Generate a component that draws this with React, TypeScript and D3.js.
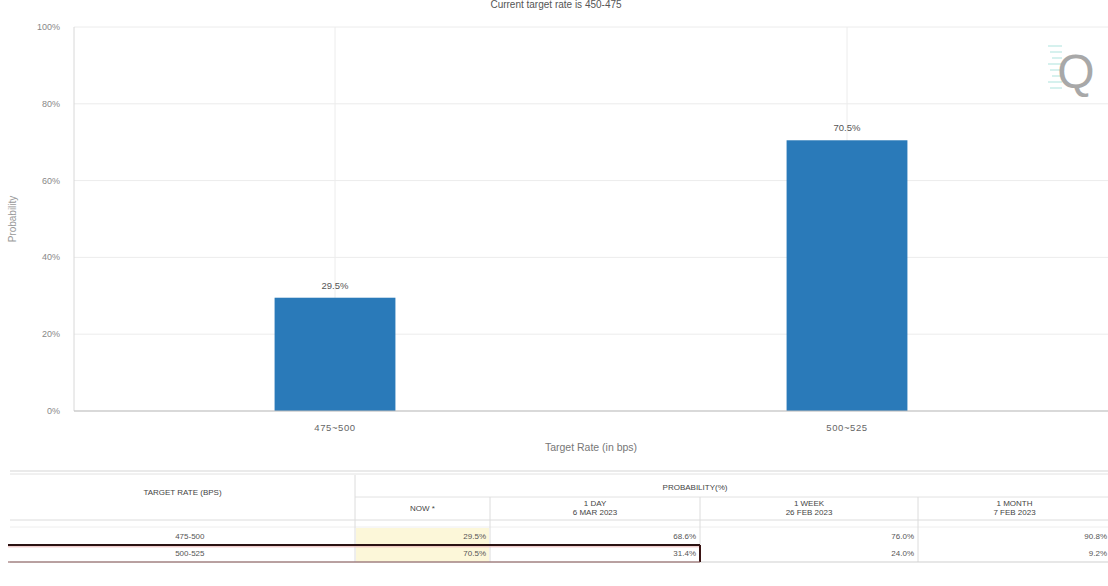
import * as d3 from "d3";

const categories = ["475-500", "500-525"];
const probabilities = [29.5, 70.5];
const yTicks = [0, 20, 40, 60, 80, 100];

const tableRates = ["475-500", "500-525"];
const nowValues = [29.5, 70.5];
const dayValues = [68.6, 31.4];
const weekValues = [76.0, 24.0];
const monthValues = [90.8, 9.2];
const periodLabels = ["NOW *", "1 DAY", "1 WEEK", "1 MONTH"];
const periodDates = ["", "6 MAR 2023", "26 FEB 2023", "7 FEB 2023"];

const W = 1108, H = 586;
const plot = { l: 74, r: 1108, t: 27, b: 411 };
const BAR = "#2a7ab9";
const FONT = "'Liberation Sans', Arial, sans-serif";

// table column edges (x) and row edges (y)
const colX = [10, 355, 490, 700, 918, 1111];
const rowY = { top: 475, sub: 497, head: 520, r1: 528, r2: 545, end: 562 };

export default function App() {
  const y = d3.scaleLinear().domain([0, 100]).range([plot.b, plot.t]);
  const x = d3.scaleBand<string>()
    .domain(categories)
    .range([79, 1103])
    .paddingInner(0.764)
    .paddingOuter(0.382);
  const bw = x.bandwidth();

  const valueCols = [nowValues, dayValues, weekValues, monthValues];
  const rowMid = [536, 553];

  return (
    <svg width={W} height={H} style={{ position: "absolute", left: 0, top: 0, background: "#fff" }} fontFamily={FONT}>
      {/* title, clipped at top */}
      <text x={556} y={8} textAnchor="middle" fontSize={10} fill="#555">Current target rate is 450-475</text>

      {/* grid */}
      {yTicks.map(t => (
        <line key={"g" + t} x1={plot.l} x2={plot.r} y1={y(t)} y2={y(t)} stroke="#ececec" />
      ))}
      {categories.map(c => (
        <line key={"v" + c} x1={x(c)! + bw / 2} x2={x(c)! + bw / 2} y1={plot.t} y2={plot.b} stroke="#ececec" />
      ))}
      <line x1={plot.l} x2={plot.l} y1={plot.t} y2={plot.b} stroke="#d8d8d8" />

      {yTicks.map(t => (
        <text key={"t" + t} x={60} y={y(t) + 3} textAnchor="end" fontSize={9} fill="#888">{t}%</text>
      ))}

      <text transform={`translate(16,${(plot.t + plot.b) / 2}) rotate(-90)`} textAnchor="middle" fontSize={10} fill="#999">Probability</text>

      {/* bars */}
      {categories.map((c, i) => (
        <g key={"b" + c}>
          <rect x={x(c)} y={y(probabilities[i])} width={bw} height={plot.b - y(probabilities[i])} fill={BAR} />
          <text x={x(c)! + bw / 2} y={y(probabilities[i]) - 9} textAnchor="middle" fontSize={9.5} fill="#555">{probabilities[i].toFixed(1)}%</text>
          <text x={x(c)! + bw / 2} y={431} textAnchor="middle" fontSize={9.5} fill="#666" letterSpacing={0.6}>{c.replace("-", "~")}</text>
        </g>
      ))}
      <line x1={plot.l} x2={plot.r} y1={plot.b} y2={plot.b} stroke="#bdbdbd" />
      <text x={591} y={451} textAnchor="middle" fontSize={10.5} fill="#777">Target Rate (in bps)</text>

      {/* logo */}
      <g>
        {[46, 52, 58, 64, 70, 76, 82, 88].map((yy, i) => (
          <line key={"q" + i} x1={1048 + (i % 3) * 2} x2={1062} y1={yy} y2={yy} stroke="#c9ece8" strokeWidth={1.5} />
        ))}
        <text x={1076} y={88} textAnchor="middle" fontSize={48} fill="#a8a8a8">Q</text>
      </g>

      {/* table */}
      <line x1={10} x2={W} y1={471} y2={471} stroke="#d5d5d5" />
      <line x1={10} x2={W} y1={474} y2={474} stroke="#e2e2e2" />
      <line x1={colX[1]} x2={W} y1={rowY.sub} y2={rowY.sub} stroke="#e2e2e2" />
      <line x1={10} x2={W} y1={rowY.head} y2={rowY.head} stroke="#dcdcdc" />
      <line x1={10} x2={W} y1={rowY.r1 - 1} y2={rowY.r1 - 1} stroke="#eeeeee" />
      <line x1={colX[1]} x2={colX[1]} y1={rowY.top} y2={rowY.end} stroke="#dcdcdc" />
      {colX.slice(2, 5).map((cx, i) => (
        <line key={"c" + i} x1={cx} x2={cx} y1={rowY.sub} y2={rowY.end} stroke="#dcdcdc" />
      ))}
      {/* yellow NOW cells */}
      <rect x={colX[1] + 1} y={rowY.r1} width={colX[2] - colX[1] - 2} height={rowY.end - rowY.r1} fill="#fcf7d9" />

      <text x={(colX[0] + colX[1]) / 2} y={495} textAnchor="middle" fontSize={8} fill="#444">TARGET RATE (BPS)</text>
      <text x={695} y={490} textAnchor="middle" fontSize={8} fill="#444">PROBABILITY(%)</text>
      {periodLabels.map((p, i) => {
        const cx = (colX[i + 1] + colX[i + 2]) / 2;
        return periodDates[i] ? (
          <g key={"p" + i}>
            <text x={cx} y={506} textAnchor="middle" fontSize={8} fill="#444">{p}</text>
            <text x={cx} y={515} textAnchor="middle" fontSize={8} fill="#444">{periodDates[i]}</text>
          </g>
        ) : (
          <text key={"p" + i} x={cx} y={511} textAnchor="middle" fontSize={8} fill="#444">{p}</text>
        );
      })}

      {tableRates.map((r, ri) => (
        <g key={"r" + r}>
          <text x={(colX[0] + colX[1]) / 2} y={rowMid[ri] + 3} textAnchor="end" dx={22} fontSize={8} fill="#555">{r}</text>
          {valueCols.map((vals, ci) => (
            <text key={ci} x={colX[ci + 2] - 4} y={rowMid[ri] + 3} textAnchor="end" fontSize={8} fill="#555">{vals[ri].toFixed(1)}%</text>
          ))}
        </g>
      ))}
      <line x1={10} x2={W} y1={rowY.end} y2={rowY.end} stroke="#cfcfcf" />

      {/* highlighted row box */}
      <line x1={8} x2={colX[3]} y1={rowY.r2} y2={rowY.r2} stroke="#2a1212" strokeWidth={2} />
      <line x1={8} x2={colX[3]} y1={rowY.r2 + 1.8} y2={rowY.r2 + 1.8} stroke="#e8b8b8" strokeWidth={1} />
      <line x1={colX[3]} x2={colX[3]} y1={rowY.r2} y2={rowY.end} stroke="#3a1414" strokeWidth={2} />
      <line x1={8} x2={colX[3]} y1={rowY.end} y2={rowY.end} stroke="#8a5a5a" strokeWidth={1} />
    </svg>
  );
}
